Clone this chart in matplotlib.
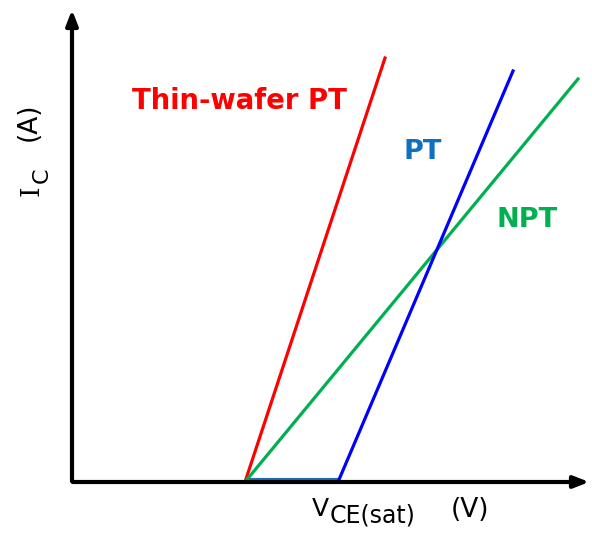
import matplotlib
matplotlib.use("Agg")
import matplotlib.pyplot as plt

# V_CE(sat) vs I_C, arbitrary units (1 unit ~ 100 px in the reference)
vce_thin = [1.73, 3.13]
ic_thin = [0.0, 4.24]
vce_pt = [2.66, 4.41]
ic_pt = [0.0, 4.11]
vce_npt = [1.73, 5.06]
ic_npt = [0.0, 4.03]
vce_flat = [1.73, 2.66]
ic_flat = [0.02, 0.02]

fig = plt.figure(figsize=(5.92, 5.38), dpi=100)
ax = fig.add_axes([0, 0, 1, 1])
ax.set_xlim(-0.72, 5.20)
ax.set_ylim(-0.56, 4.82)
ax.axis("off")


def pos(px, py):
    # pixel position in the picture -> data coords
    return (px - 72) / 100.0, (482 - py) / 100.0


# axes with arrows
ax.annotate("", xy=(5.20, 0), xytext=(-0.02, 0),
            arrowprops=dict(arrowstyle="-|>,head_length=0.9,head_width=0.35", lw=3, color="black"))
ax.annotate("", xy=(0, 4.75), xytext=(0, -0.02),
            arrowprops=dict(arrowstyle="-|>,head_length=0.9,head_width=0.35", lw=3, color="black"))

ax.plot(vce_flat, ic_flat, color="#1f6fb5", lw=3, solid_capstyle="butt")
ax.plot(vce_thin, ic_thin, color="#ff0000", lw=2.3)
ax.plot(vce_npt, ic_npt, color="#00b050", lw=2.3)
ax.plot(vce_pt, ic_pt, color="#0000ff", lw=2.3)

x, y = pos(132, 101)
ax.text(x, y, "Thin-wafer PT", color="#ff0000", fontsize=19.8, fontweight="bold",
        ha="left", va="center")
x, y = pos(423, 152)
ax.text(x, y, "PT", color="#1070c0", fontsize=19.5, fontweight="bold",
        ha="center", va="center")
x, y = pos(527, 220)
ax.text(x, y, "NPT", color="#00b050", fontsize=19.5, fontweight="bold",
        ha="center", va="center")

# y label: I_C (A), rotated
x, y = pos(31, 191)
ax.text(x, y, "I", family="DejaVu Serif", rotation=90, fontsize=19, ha="center", va="center")
x, y = pos(42, 175)
ax.text(x, y, "C", rotation=90, fontsize=16, ha="center", va="center")
x, y = pos(29, 122)
ax.text(x, y, "(A)", rotation=90, fontsize=19, ha="center", va="center")

# x label: V_CE(sat) (V)
x, y = pos(320, 509)
ax.text(x, y, "V", fontsize=18, ha="center", va="center")
x, y = pos(373, 516)
ax.text(x, y, "CE(sat)", fontsize=17, ha="center", va="center")
x, y = pos(470, 510)
ax.text(x, y, "(V)", fontsize=19, ha="center", va="center")

fig.savefig("out.png", dpi=100)
